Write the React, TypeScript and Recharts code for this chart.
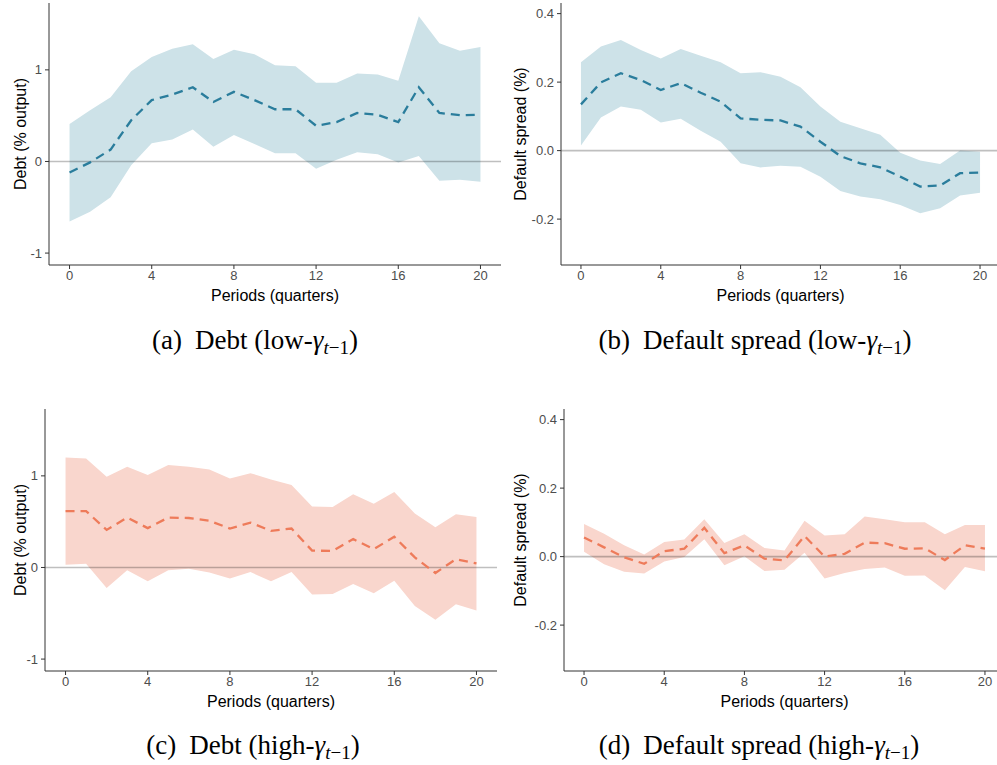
import React from 'react'
import {
  ComposedChart,
  Area,
  Line,
  XAxis,
  YAxis,
  ReferenceLine,
  Label
} from 'recharts'

const periods = [0, 1, 2, 3, 4, 5, 6, 7, 8, 9, 10, 11, 12, 13, 14, 15, 16, 17, 18, 19, 20]
const periodTicks = [0, 4, 8, 12, 16, 20]
const debtTicks = [-1, 0, 1]
const spreadTicks = [-0.2, 0, 0.2, 0.4]

// (a) debt, low gamma
const debtLowMean = [-0.12, -0.01, 0.13, 0.45, 0.67, 0.73, 0.81, 0.65, 0.76, 0.67, 0.57, 0.57, 0.39, 0.43, 0.53, 0.51, 0.43, 0.81, 0.53, 0.505, 0.51]
const debtLowUpper = [0.41, 0.56, 0.7, 0.985, 1.14, 1.23, 1.28, 1.12, 1.22, 1.17, 1.05, 1.04, 0.86, 0.86, 0.96, 0.95, 0.88, 1.585, 1.29, 1.21, 1.25]
const debtLowLower = [-0.655, -0.55, -0.39, -0.04, 0.2, 0.24, 0.35, 0.16, 0.29, 0.19, 0.09, 0.09, -0.08, 0.02, 0.1, 0.08, -0.01, 0.06, -0.21, -0.2, -0.22]

// (b) default spread, low gamma
const spreadLowMean = [0.135, 0.199, 0.226, 0.206, 0.177, 0.197, 0.169, 0.143, 0.094, 0.09, 0.088, 0.07, 0.026, -0.016, -0.037, -0.049, -0.076, -0.105, -0.102, -0.066, -0.064]
const spreadLowUpper = [0.258, 0.304, 0.323, 0.294, 0.269, 0.297, 0.277, 0.258, 0.226, 0.229, 0.216, 0.185, 0.129, 0.084, 0.065, 0.046, -0.006, -0.029, -0.039, 0.0, -0.003]
const spreadLowLower = [0.015, 0.097, 0.129, 0.119, 0.082, 0.093, 0.058, 0.026, -0.037, -0.049, -0.044, -0.047, -0.076, -0.118, -0.134, -0.142, -0.159, -0.183, -0.168, -0.131, -0.123]

// (c) debt, high gamma
const debtHighMean = [0.615, 0.615, 0.41, 0.545, 0.43, 0.545, 0.54, 0.51, 0.425, 0.49, 0.4, 0.425, 0.185, 0.18, 0.31, 0.2, 0.335, 0.11, -0.06, 0.09, 0.045]
const debtHighUpper = [1.2, 1.19, 0.99, 1.1, 1.01, 1.12, 1.1, 1.07, 0.97, 1.03, 0.96, 0.9, 0.665, 0.66, 0.8, 0.695, 0.825, 0.59, 0.44, 0.58, 0.55]
const debtHighLower = [0.03, 0.04, -0.225, -0.03, -0.15, -0.03, -0.015, -0.055, -0.12, -0.05, -0.15, -0.05, -0.295, -0.29, -0.18, -0.28, -0.145, -0.42, -0.57, -0.4, -0.47]

// (d) default spread, high gamma
const spreadHighMean = [0.056, 0.027, -0.002, -0.021, 0.016, 0.023, 0.084, 0.01, 0.033, -0.006, -0.011, 0.06, 0.0, 0.008, 0.041, 0.039, 0.023, 0.024, -0.01, 0.033, 0.023]
const spreadHighUpper = [0.095, 0.067, 0.033, 0.006, 0.043, 0.05, 0.109, 0.04, 0.065, 0.025, 0.018, 0.105, 0.062, 0.065, 0.117, 0.109, 0.1, 0.1, 0.065, 0.092, 0.092]
const spreadHighLower = [0.014, -0.022, -0.044, -0.049, -0.014, -0.001, 0.051, -0.025, 0.001, -0.042, -0.038, 0.011, -0.064, -0.048, -0.036, -0.032, -0.056, -0.055, -0.098, -0.03, -0.043]

const BLUE_FILL = '#CDE2E8'
const BLUE_LINE = '#2A7D9C'
const RED_FILL = '#F9D6CD'
const RED_LINE = '#EE7B5A'

const tickStyle = { fontFamily: 'Liberation Sans, Arial, sans-serif', fontSize: 13, fill: '#4D4D4D' }
const titleStyle = { fontFamily: 'Liberation Sans, Arial, sans-serif', fontSize: 16, fill: '#000' }

function buildRows(mean: number[], lower: number[], upper: number[]) {
  return periods.map((p, i) => ({ p, mean: mean[i], band: [lower[i], upper[i]] }))
}

interface PanelProps {
  left: number
  top: number
  width: number
  yWidth: number
  rightMargin: number
  rows: any[]
  yDomain: [number, number]
  yTicks: number[]
  yFormat: (v: number) => string
  yTitle: string
  fill: string
  stroke: string
}

function Panel({ left, top, width, yWidth, rightMargin, rows, yDomain, yTicks, yFormat, yTitle, fill, stroke }: PanelProps) {
  return (
    <div style={{ position: 'absolute', left, top }}>
      <ComposedChart width={width} height={310} data={rows} margin={{ top: 3, right: rightMargin, bottom: 0, left: 0 }}>
        <XAxis
          type="number"
          dataKey="p"
          domain={[-1, 21]}
          ticks={periodTicks}
          allowDataOverflow
          height={45}
          tickSize={4}
          tickMargin={2}
          stroke="#333"
          tick={tickStyle}
          tickLine={{ stroke: '#333' }}
        >
          <Label value="Periods (quarters)" position="insideBottom" offset={9} style={titleStyle} />
        </XAxis>
        <YAxis
          type="number"
          domain={yDomain}
          ticks={yTicks}
          allowDataOverflow
          width={yWidth}
          tickSize={4}
          tickMargin={3}
          stroke="#333"
          tick={tickStyle}
          tickFormatter={yFormat}
        >
          <Label value={yTitle} angle={-90} position="insideLeft" offset={20} style={{ ...titleStyle, textAnchor: 'middle' }} />
        </YAxis>
        <Area
          type="linear"
          dataKey="band"
          stroke="none"
          fill={fill}
          fillOpacity={1}
          isAnimationActive={false}
        />
        <ReferenceLine y={0} stroke="#000" strokeOpacity={0.25} strokeWidth={1.6} />
        <Line
          type="linear"
          dataKey="mean"
          stroke={stroke}
          strokeWidth={2.3}
          strokeDasharray="9 6"
          dot={false}
          isAnimationActive={false}
        />
      </ComposedChart>
    </div>
  )
}

const captionStyle: React.CSSProperties = {
  position: 'absolute',
  width: 500,
  textAlign: 'center',
  fontFamily: 'Liberation Serif, Times New Roman, serif',
  fontSize: 27,
  color: '#000',
  lineHeight: '30px'
}

function Caption({ x, y, tag, text }: { x: number; y: number; tag: string; text: string }) {
  return (
    <div style={{ ...captionStyle, left: x - 250, top: y - 15 }}>
      <span style={{ marginRight: 13 }}>{tag}</span>
      {text}
      <i>γ</i>
      <sub style={{ fontSize: 19, verticalAlign: -5 }}><i>t</i>−1</sub>
      )
    </div>
  )
}

const oneDp = (v: number) => v.toFixed(1)
const intFmt = (v: number) => String(v)

export default function App() {
  return (
    <div style={{ position: 'absolute', left: 0, top: 0, width: 997, height: 765, overflow: 'hidden', background: '#fff' }}>
      <Panel
        left={0}
        top={0}
        width={505}
        yWidth={49}
        rightMargin={4}
        rows={buildRows(debtLowMean, debtLowLower, debtLowUpper)}
        yDomain={[-1.13, 1.73]}
        yTicks={debtTicks}
        yFormat={intFmt}
        yTitle="Debt (% output)"
        fill={BLUE_FILL}
        stroke={BLUE_LINE}
      />
      <Panel
        left={500}
        top={0}
        width={500}
        yWidth={61}
        rightMargin={0}
        rows={buildRows(spreadLowMean, spreadLowLower, spreadLowUpper)}
        yDomain={[-0.334, 0.431]}
        yTicks={spreadTicks}
        yFormat={oneDp}
        yTitle="Default spread (%)"
        fill={BLUE_FILL}
        stroke={BLUE_LINE}
      />
      <Panel
        left={0}
        top={406}
        width={505}
        yWidth={45}
        rightMargin={8}
        rows={buildRows(debtHighMean, debtHighLower, debtHighUpper)}
        yDomain={[-1.13, 1.73]}
        yTicks={debtTicks}
        yFormat={intFmt}
        yTitle="Debt (% output)"
        fill={RED_FILL}
        stroke={RED_LINE}
      />
      <Panel
        left={500}
        top={406}
        width={505}
        yWidth={64}
        rightMargin={0}
        rows={buildRows(spreadHighMean, spreadHighLower, spreadHighUpper)}
        yDomain={[-0.334, 0.431]}
        yTicks={spreadTicks}
        yFormat={oneDp}
        yTitle="Default spread (%)"
        fill={RED_FILL}
        stroke={RED_LINE}
      />
      <Caption x={255} y={340} tag="(a)" text="Debt (low-" />
      <Caption x={755} y={340} tag="(b)" text="Default spread (low-" />
      <Caption x={253} y={745} tag="(c)" text="Debt (high-" />
      <Caption x={759} y={745} tag="(d)" text="Default spread (high-" />
    </div>
  )
}
